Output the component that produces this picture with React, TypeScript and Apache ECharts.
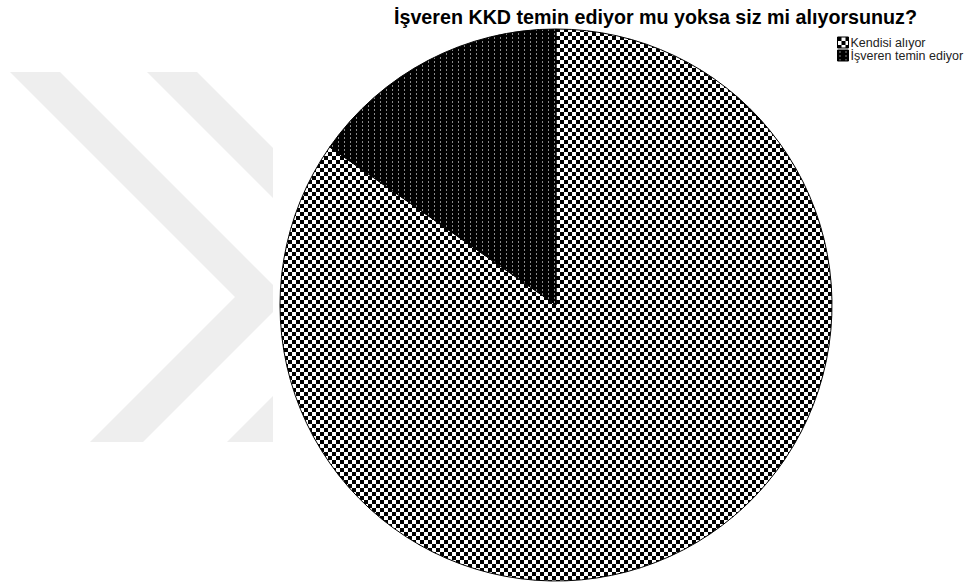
import React, { useEffect, useRef } from "react";
import * as echarts from "echarts";

const titleText = "İşveren KKD temin ediyor mu yoksa siz mi alıyorsunuz?";
const categories = ["Kendisi alıyor", "İşveren temin ediyor"];
const values = [84.7, 15.3];

function makeChecker(cell: number) {
  const c = document.createElement("canvas");
  c.width = cell * 2;
  c.height = cell * 2;
  const ctx = c.getContext("2d")!;
  ctx.fillStyle = "#ffffff";
  ctx.fillRect(0, 0, c.width, c.height);
  ctx.fillStyle = "#000000";
  ctx.fillRect(0, 0, cell, cell);
  ctx.fillRect(cell, cell, cell, cell);
  return { image: c.toDataURL(), imageWidth: c.width, imageHeight: c.height, repeat: "repeat" };
}

function makeDots(w: number, h: number) {
  const c = document.createElement("canvas");
  c.width = w;
  c.height = h;
  const ctx = c.getContext("2d")!;
  ctx.fillStyle = "#000000";
  ctx.fillRect(0, 0, w, h);
  ctx.fillStyle = "#8a8a8a";
  ctx.fillRect(2, 1, 1, 2);
  return { image: c.toDataURL(), imageWidth: w, imageHeight: h, repeat: "repeat" };
}

export default function App() {
  const ref = useRef<HTMLDivElement>(null);
  useEffect(() => {
    if (!ref.current) return;
    const chart = echarts.init(ref.current, undefined, { renderer: "svg" });
    const checker = makeChecker(4);
    const dots = makeDots(6, 4);
    const patterns = [checker, dots];
    const wm = "#eeeeee";
    chart.setOption({
      animation: false,
      backgroundColor: "#ffffff",
      title: {
        text: titleText,
        left: 389,
        top: 2,
        textStyle: {
          fontFamily: "Liberation Sans, Arial, sans-serif",
          fontWeight: "bold",
          fontSize: 19.7,
          color: "#000",
        },
      },
      legend: {
        orient: "vertical",
        left: 832,
        top: 31,
        itemWidth: 11,
        itemHeight: 11,
        itemGap: 0,
        icon: "rect",
        selectedMode: false,
        data: categories,
        itemStyle: { borderColor: "#000", borderWidth: 1 },
        textStyle: {
          fontFamily: "Liberation Sans, Arial, sans-serif",
          fontSize: 12.5,
          color: "#222",
          padding: [0, 0, 0, -3],
        },
      },
      graphic: [
        {
          type: "polygon",
          silent: true,
          z: -10,
          shape: {
            points: [
              [10, 72], [60, 72], [273, 285], [273, 312], [143, 442], [90, 442], [235, 297],
            ],
          },
          style: { fill: wm },
        },
        {
          type: "polygon",
          silent: true,
          z: -10,
          shape: { points: [[147, 72], [197, 72], [273, 148], [273, 198]] },
          style: { fill: wm },
        },
        {
          type: "polygon",
          silent: true,
          z: -10,
          shape: { points: [[227, 442], [273, 396], [273, 442]] },
          style: { fill: wm },
        },
      ],
      series: [
        {
          type: "pie",
          center: [556, 305],
          radius: 276,
          startAngle: 90,
          clockwise: true,
          silent: true,
          label: { show: false },
          labelLine: { show: false },
          emphasis: { disabled: true },
          itemStyle: { borderColor: "#000", borderWidth: 1 },
          data: categories.map((name, i) => ({
            name,
            value: values[i],
            itemStyle: { color: patterns[i] },
          })),
        },
      ],
    });
    return () => chart.dispose();
  }, []);
  return (
    <div
      ref={ref}
      style={{ position: "fixed", left: 0, top: 0, width: 966, height: 585 }}
    />
  );
}
